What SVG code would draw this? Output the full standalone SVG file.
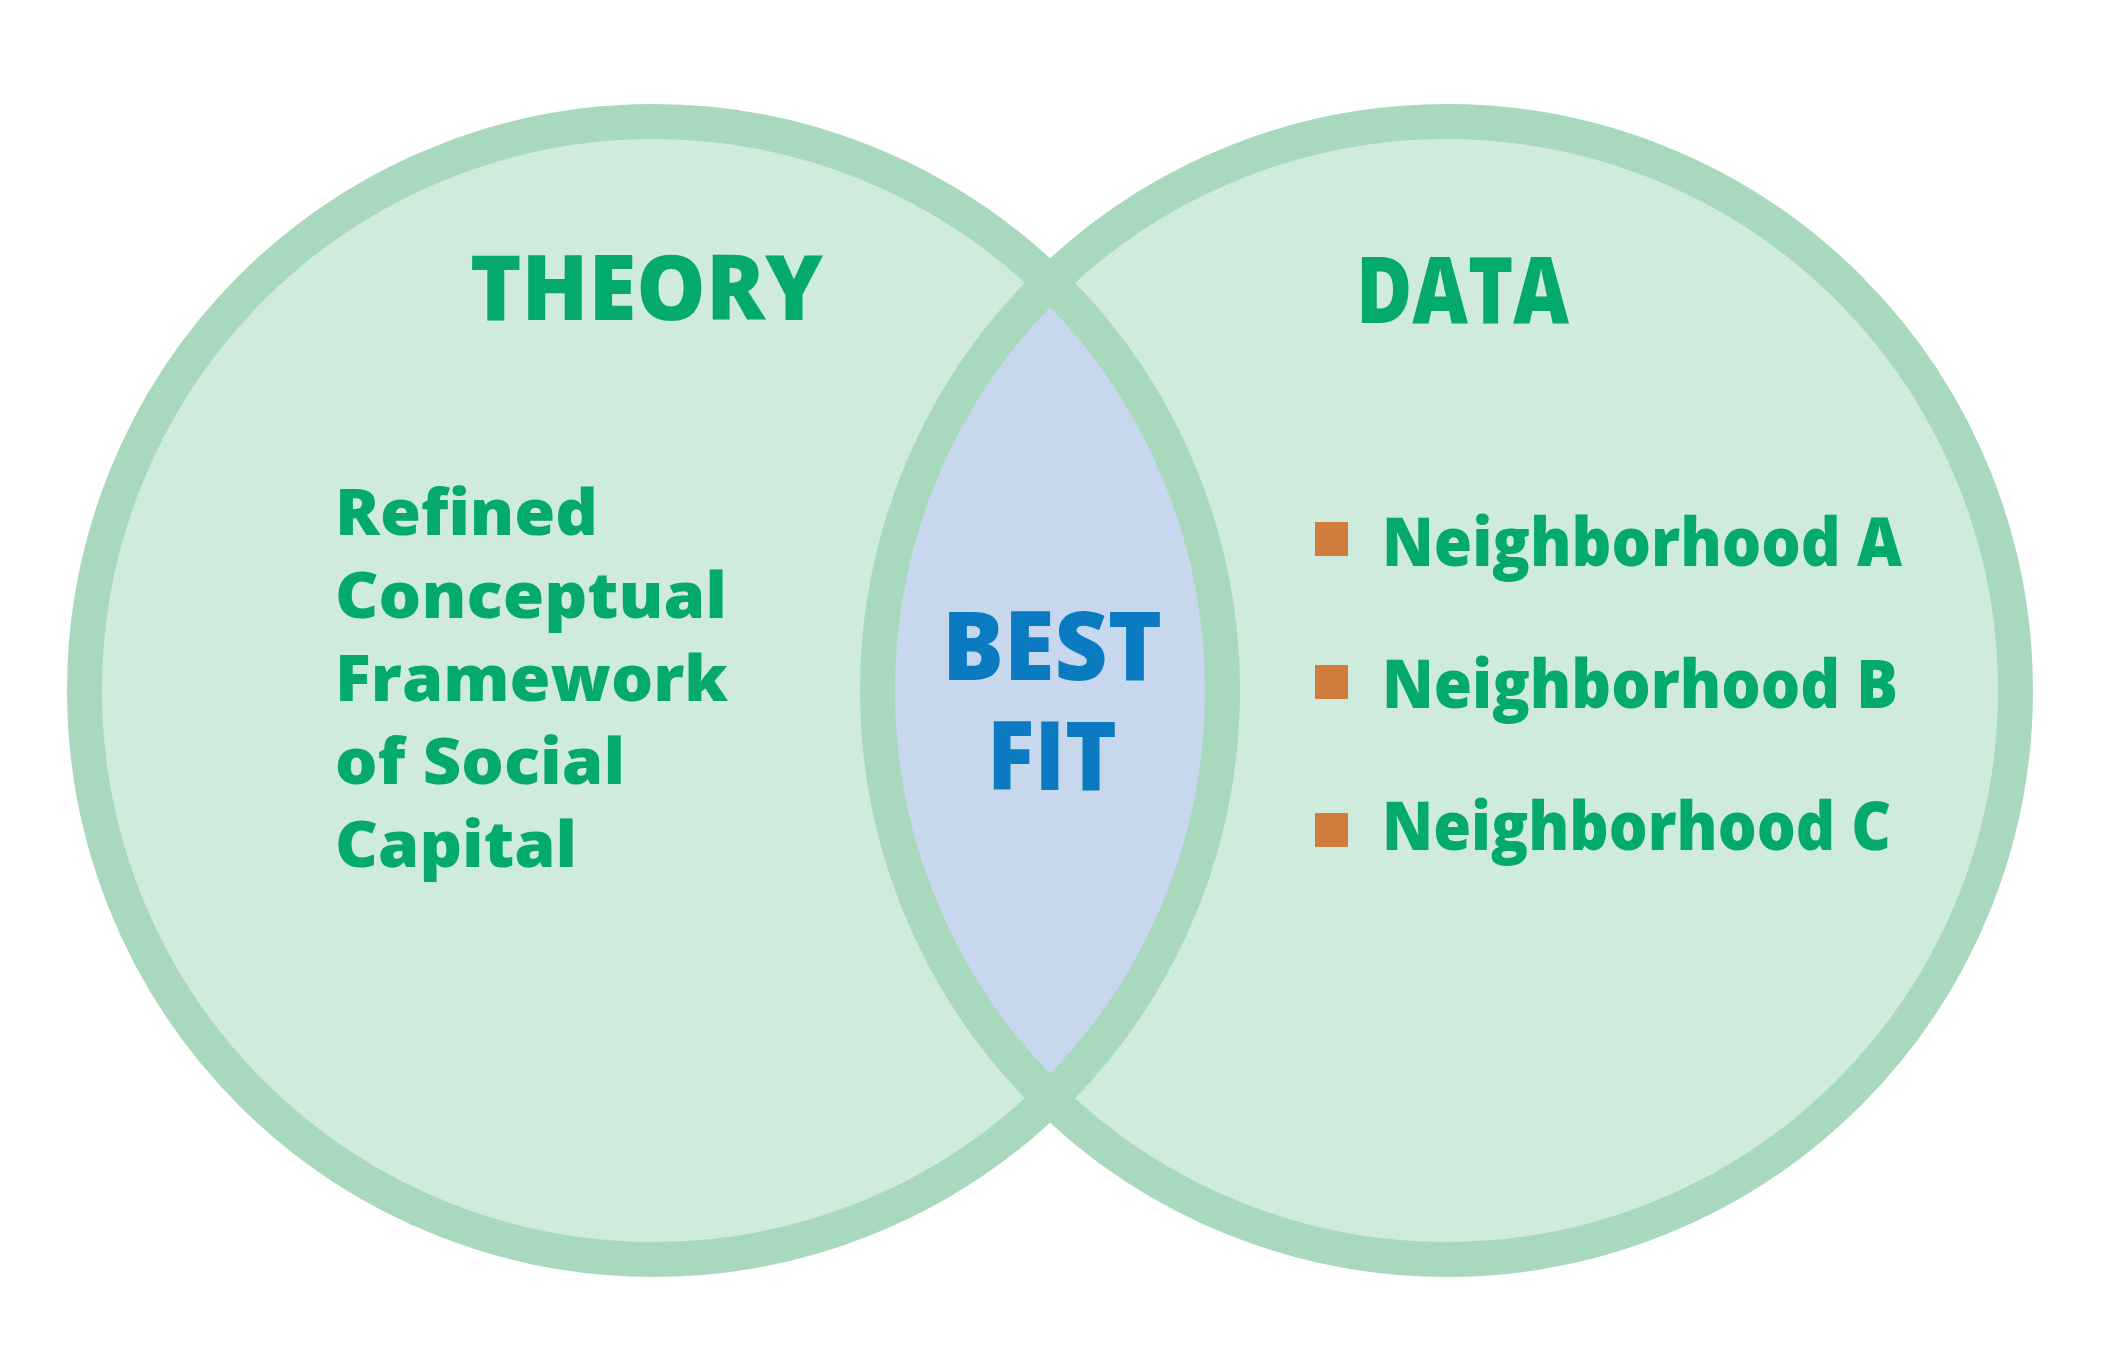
<svg xmlns="http://www.w3.org/2000/svg" width="2116" height="1369" viewBox="0 0 2116 1369">
<style>
.fill{fill:#cfebdc;stroke:none}
.ring{fill:none;stroke:#a8d9bc;stroke-width:35}
.lens{fill:#c7d8ee;stroke:none}
.t{font-family:"Open Sans","Noto Sans","Liberation Sans",sans-serif;font-weight:760;fill:#03aa6c}
.b{font-family:"Open Sans","Noto Sans","Liberation Sans",sans-serif;font-weight:760;fill:#0a7bc1}
.sq{fill:#d17b3d}
</style>
<rect width="2116" height="1369" fill="#ffffff"/>
<g id="fills">
<circle class="fill" cx="653.5" cy="690.5" r="569"/>
<circle class="fill" cx="1446.5" cy="690.5" r="569"/>
<path class="lens" d="M 1050 282.5 A 569 569 0 0 1 1050 1098.5 A 569 569 0 0 1 1050 282.5 Z"/>
</g>
<g id="theory">
<circle class="ring" cx="653.5" cy="690.5" r="569"/>
<text class="t" x="470" y="320" font-size="91" textLength="353" lengthAdjust="spacingAndGlyphs">THEORY</text>
<text class="t" x="335" y="535" font-size="64" textLength="263" lengthAdjust="spacingAndGlyphs">Refined</text>
<text class="t" x="335" y="618" font-size="64" textLength="392" lengthAdjust="spacingAndGlyphs">Conceptual</text>
<text class="t" x="335" y="701" font-size="64" textLength="393" lengthAdjust="spacingAndGlyphs">Framework</text>
<text class="t" x="335" y="784" font-size="64" textLength="290" lengthAdjust="spacingAndGlyphs">of Social</text>
<text class="t" x="335" y="867" font-size="64" textLength="242" lengthAdjust="spacingAndGlyphs">Capital</text>
</g>
<g id="data">
<circle class="ring" cx="1446.5" cy="690.5" r="569"/>
<text class="t" x="1356" y="323" font-size="93" textLength="213" lengthAdjust="spacingAndGlyphs">DATA</text>
<rect class="sq" x="1315" y="522" width="33" height="34"/>
<text class="t" x="1382" y="566" font-size="68" textLength="520" lengthAdjust="spacingAndGlyphs">Neighborhood A</text>
<rect class="sq" x="1315" y="665" width="33" height="34"/>
<text class="t" x="1382" y="708" font-size="68" textLength="516" lengthAdjust="spacingAndGlyphs">Neighborhood B</text>
<rect class="sq" x="1315" y="813" width="33" height="34"/>
<text class="t" x="1382" y="850" font-size="68" textLength="509" lengthAdjust="spacingAndGlyphs">Neighborhood C</text>
</g>
<g id="bestfit">
<text class="b" font-size="95"><tspan x="942" y="680" textLength="220" lengthAdjust="spacingAndGlyphs">BEST</tspan><tspan x="987" y="790" textLength="130" lengthAdjust="spacingAndGlyphs">FIT</tspan></text>
</g>
<g id="connectors"/>
</svg>
